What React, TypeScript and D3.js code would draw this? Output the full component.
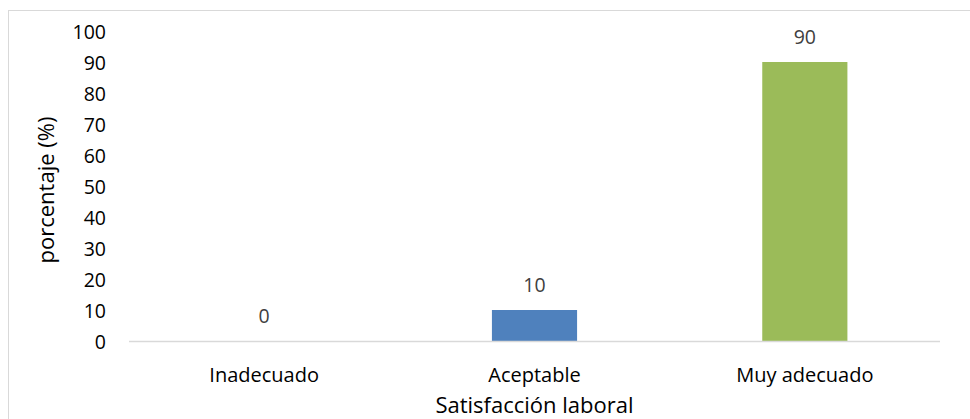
import React from "react";
import * as d3 from "d3";

const categories = ["Inadecuado", "Aceptable", "Muy adecuado"];
const values = [0, 10, 90];
const colors = ["#4F81BD", "#4F81BD", "#9BBB59"];
const yTicks = [0, 10, 20, 30, 40, 50, 60, 70, 80, 90, 100];
const xTitle = "Satisfacción laboral";
const yTitle = "porcentaje (%)";

export default function App() {
  const W = 970, H = 419;
  const left = 129, right = 940, top = 31, bottom = 341;
  const x = d3.scaleBand<string>().domain(categories).range([left, right]).paddingInner(0.685).paddingOuter(0.3425);
  const y = d3.scaleLinear().domain([0, 100]).range([bottom, top]);
  const font = "'Open Sans', sans-serif";
  return (
    <svg width={W} height={H} style={{ position: "absolute", left: 0, top: 0 }}>
      <rect x={8.5} y={10.5} width={970} height={420} fill="#fff" stroke="#d9d9d9" strokeWidth={1} />
      {yTicks.map((t) => (
        <text key={t} x={106} y={y(t)} textAnchor="end" dominantBaseline="central" fontFamily={font} fontSize={19.5} fill="#000">
          {t}
        </text>
      ))}
      {categories.map((c, i) => {
        const bx = x(c)!;
        const by = y(values[i]);
        return (
          <g key={c}>
            {values[i] > 0 && <rect x={bx} y={by} width={x.bandwidth()} height={bottom - by} fill={colors[i]} />}
            <text x={bx + x.bandwidth() / 2} y={by - 26} textAnchor="middle" dominantBaseline="central" fontFamily={font} fontSize={19.5} fill="#404040">
              {values[i]}
            </text>
            <text x={bx + x.bandwidth() / 2} y={374} textAnchor="middle" dominantBaseline="central" fontFamily={font} fontSize={20} fill="#000">
              {c}
            </text>
          </g>
        );
      })}
      <line x1={left} x2={right} y1={bottom + 0.5} y2={bottom + 0.5} stroke="#d9d9d9" strokeWidth={1.5} />
      <text x={(left + right) / 2} y={404} textAnchor="middle" dominantBaseline="central" fontFamily={font} fontSize={22} fill="#000">
        {xTitle}
      </text>
      <text transform={`translate(45, 190) rotate(-90)`} textAnchor="middle" dominantBaseline="central" fontFamily={font} fontSize={22} fill="#000">
        {yTitle}
      </text>
    </svg>
  );
}
